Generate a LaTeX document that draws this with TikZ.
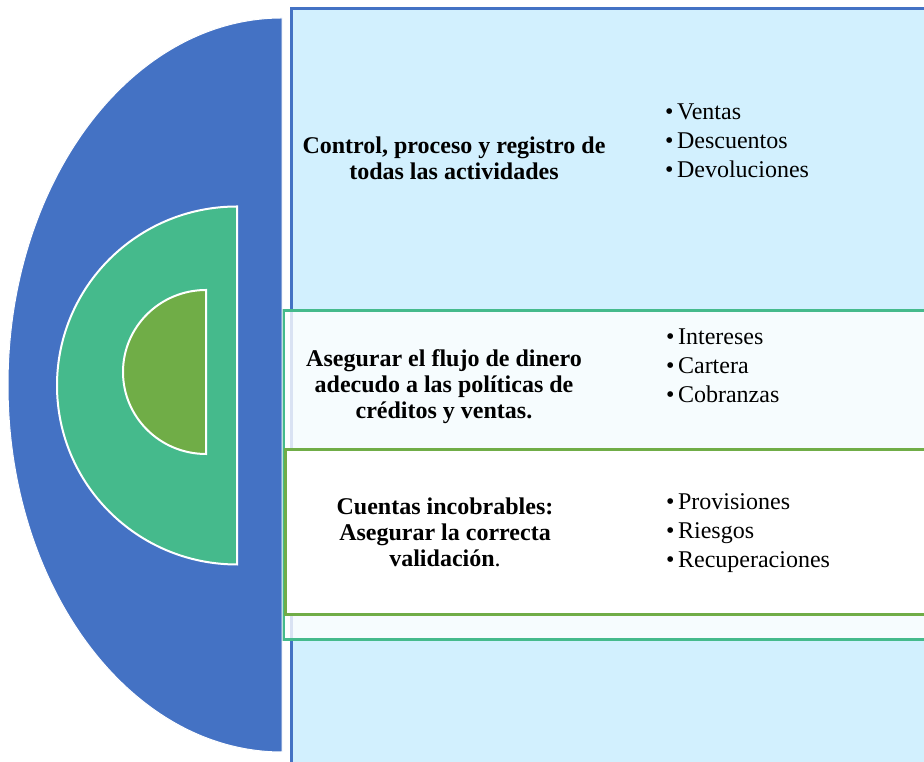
\documentclass[tikz,border=0pt]{standalone}
\usepackage{fontspec}
\setmainfont{Liberation Serif}
\definecolor{accblue}{RGB}{68,114,196}
\definecolor{lightcyan}{RGB}{210,240,254}
\definecolor{teal}{RGB}{69,186,140}
\definecolor{olive}{RGB}{112,173,71}
\tikzset{
  halfshape/.style={draw=white, line width=2pt},
  panelline/.style={line width=3pt},
  titletext/.style={align=center, font=\fontsize{24}{26}\selectfont\bfseries, inner sep=0pt},
  bullettext/.style={align=left, anchor=west, font=\fontsize{24}{29}\selectfont, inner sep=0pt}
}
\newcommand{\bul}{•\hspace{3.5pt}}
\begin{document}
\begin{tikzpicture}[x=1pt,y=1pt]
\useasboundingbox (0,0) rectangle (924,762);
\clip (0,0) rectangle (924,762);
\fill[white] (0,0) rectangle (924,762);
% panels
\fill[lightcyan] (291,753) rectangle (940,-10);
\draw[panelline, draw=accblue] (291,753) rectangle (940,-10);
\fill[white, fill opacity=0.8] (283,451) rectangle (940,122);
\draw[panelline, draw=teal] (283,451) rectangle (940,122);
\fill[white] (285,312) rectangle (940,147);
\draw[panelline, draw=olive] (285,312) rectangle (940,147);
% half ellipses
\path[fill=accblue, draw=white, line width=1pt] (282,744) arc[start angle=90, end angle=270, x radius=274, y radius=367] -- cycle;
\path[halfshape, fill=teal] (237,555.5) arc[start angle=90, end angle=270, x radius=180, y radius=179] -- cycle;
\path[halfshape, fill=olive] (206,472) arc[start angle=90, end angle=270, x radius=83, y radius=82] -- cycle;
% texts
\node[titletext] (t1) at (454,604) {Control, proceso y registro de\\todas las actividades};
\node[titletext] (t2) at (444,375) {Asegurar el flujo de dinero\\adecudo a las políticas de\\créditos y ventas.};
\node[titletext] (t3) at (445,230) {Cuentas incobrables:\\Asegurar la correcta\\validación\mdseries.};
\node[bullettext] (b1) at (665,621) {\bul Ventas\\\bul Descuentos\\\bul Devoluciones};
\node[bullettext] (b2) at (666,396) {\bul Intereses\\\bul Cartera\\\bul Cobranzas};
\node[bullettext] (b3) at (666,229) {\bul Provisiones\\\bul Riesgos\\\bul Recuperaciones};
\end{tikzpicture}
\end{document}
